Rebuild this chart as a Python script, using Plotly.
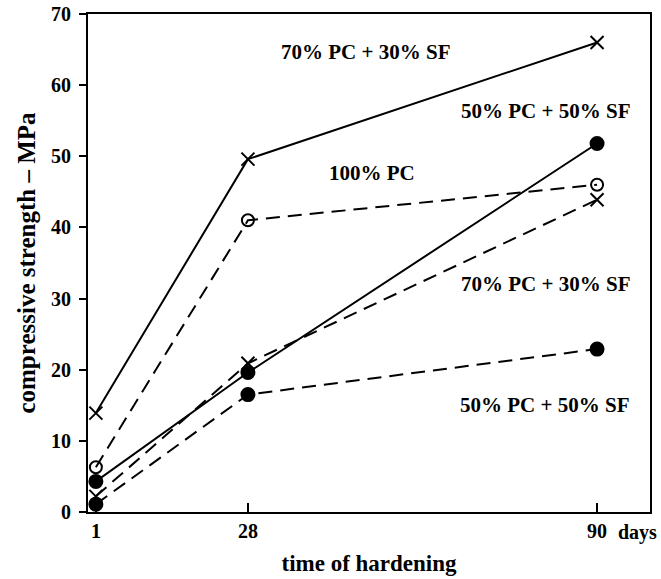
import plotly.graph_objects as go

days = [1, 28, 90]
pc70_sf30_solid = [13.9, 49.6, 66.0]
pc100_dashed = [6.3, 41.0, 46.0]
pc50_sf50_solid = [4.3, 19.6, 51.8]
pc70_sf30_dashed = [2.2, 20.9, 43.9]
pc50_sf50_dashed = [1.1, 16.5, 22.9]

y_ticks = [0, 10, 20, 30, 40, 50, 60, 70]
x_tick_labels = ["<b>1</b>", "<b>28</b>", "<b>90</b>"]

FONT = "Liberation Serif, Times New Roman, serif"
DASH = "14px,8px"

fig = go.Figure()

def add(y, dash, symbol, size, lw=2):
    fig.add_trace(go.Scatter(
        x=days, y=y, mode="lines+markers",
        line=dict(color="black", width=lw, dash=dash),
        marker=dict(symbol=symbol, size=size, color="black",
                    line=dict(color="black", width=2)),
        showlegend=False, cliponaxis=False))

add(pc70_sf30_solid, "solid", "x-thin-open", 13)
add(pc100_dashed, DASH, "circle-open", 12)
add(pc50_sf50_solid, "solid", "circle", 13)
add(pc70_sf30_dashed, DASH, "x-thin-open", 13)
add(pc50_sf50_dashed, DASH, "circle", 13)

labels = [
    ("70% PC + 30% SF", 48.8, 64.7),
    ("100% PC", 50.0, 47.7),
    ("50% PC + 50% SF", 80.9, 56.4),
    ("70% PC + 30% SF", 80.9, 32.0),
    ("50% PC + 50% SF", 80.6, 15.0),
]
for t, x, y in labels:
    fig.add_annotation(x=x, y=y, text="<b>" + t + "</b>", showarrow=False,
                       font=dict(family=FONT, size=21, color="black"))

fig.add_annotation(x=93.4, xref="x", xanchor="left", y=0, yref="paper",
                   yanchor="middle", yshift=-20, text="<b>days</b>",
                   showarrow=False,
                   font=dict(family=FONT, size=20, color="black"))

fig.update_layout(
    width=661, height=579,
    margin=dict(l=88, r=11, t=14, b=67),
    paper_bgcolor="white", plot_bgcolor="white",
    font=dict(family=FONT, size=20, color="black"),
    xaxis=dict(range=[-0.4, 99.4], tickmode="array", tickvals=days,
               ticktext=x_tick_labels, ticks="inside", ticklen=9,
               tickwidth=2, tickcolor="black", showgrid=False, zeroline=False,
               showline=True, linecolor="black", linewidth=2, mirror=True,
               automargin=False,
               title=dict(text="<b>time of hardening</b>", standoff=14,
                          font=dict(family=FONT, size=23))),
    yaxis=dict(range=[0, 70], tickmode="array", tickvals=y_ticks,
               ticktext=["<b>%d</b>" % v for v in y_ticks],
               ticks="outside", ticklen=7, tickwidth=2, tickcolor="black",
               ticklabelstandoff=4, ticklabeloverflow="allow",
               automargin=False,
               showgrid=False, zeroline=False, showline=True,
               linecolor="black", linewidth=2, mirror=True,
               title=dict(text="<b>compressive strength – MPa</b>", standoff=8,
                          font=dict(family=FONT, size=25))),
)

fig.write_html("out.html", config={"displayModeBar": False},
               post_script="document.body.style.margin='0';document.body.style.overflow='hidden';")
